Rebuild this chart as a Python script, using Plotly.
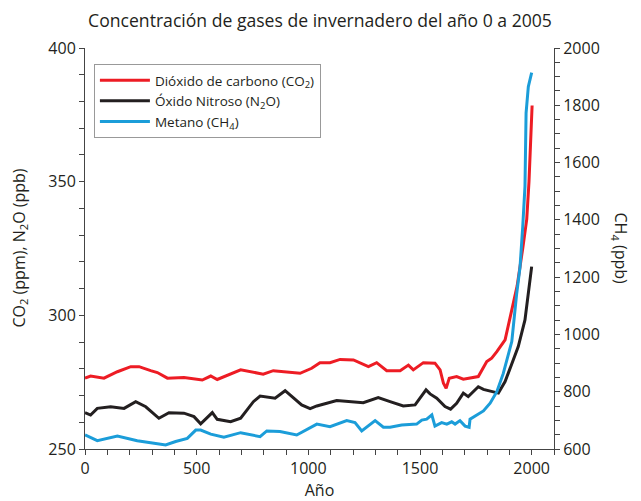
import plotly.graph_objects as go

# ---- data ----
co2_years = [0, 25, 85, 145, 205, 242, 294, 324, 369, 443, 525, 563, 592, 652, 697,
             798, 843, 963, 1015, 1052, 1097, 1142, 1202, 1269, 1306, 1351, 1411,
             1448, 1470, 1515, 1567, 1590, 1605, 1617, 1631, 1664, 1694, 1761, 1799,
             1821, 1844, 1881, 1910, 1935, 1960, 1978, 1988, 1994, 1998, 2002]
co2_ppm = [276.5, 277.3, 276.5, 278.9, 280.8, 280.8, 279.3, 278.6, 276.5, 276.7,
           275.8, 277.3, 276.0, 278.0, 279.6, 278.0, 279.3, 278.3, 280.2, 282.3,
           282.3, 283.5, 283.3, 280.8, 282.3, 279.3, 279.3, 281.4, 279.6, 282.3,
           282.1, 279.6, 274.6, 272.7, 276.5, 277.1, 276.1, 277.1, 282.7, 284.0,
           286.4, 290.8, 302.0, 311.0, 325.0, 336.0, 350.0, 362.0, 371.0, 378.5]

n2o_years = [0, 25, 55, 115, 175, 227, 272, 331, 376, 443, 488, 518, 570, 592, 652,
             697, 754, 784, 851, 896, 970, 1008, 1038, 1127, 1246, 1313, 1366, 1425,
             1478, 1508, 1527, 1545, 1575, 1612, 1637, 1664, 1694, 1716, 1761, 1784,
             1851, 1881, 1911, 1940, 1970, 1985, 2000]
n2o_ppb = [263.6, 262.7, 265.2, 265.8, 265.2, 267.7, 265.8, 261.5, 263.6, 263.4,
           262.1, 259.4, 263.6, 261.1, 260.2, 261.5, 267.7, 269.8, 269.0, 271.8,
           266.5, 265.1, 266.1, 268.1, 267.3, 269.2, 267.7, 266.1, 266.5, 269.8,
           272.1, 270.6, 269.0, 265.9, 264.9, 267.1, 270.9, 269.6, 273.3, 272.3,
           270.9, 275.2, 282.0, 288.3, 298.3, 308.2, 318.2]

ch4_years = [0, 55, 145, 234, 294, 361, 406, 458, 496, 518, 563, 622, 697, 784, 814,
             873, 948, 1038, 1097, 1172, 1209, 1239, 1299, 1336, 1366, 1418, 1485,
             1508, 1530, 1553, 1567, 1597, 1620, 1642, 1657, 1679, 1702, 1720, 1724,
             1754, 1784, 1814, 1844, 1873, 1896, 1911, 1933, 1948, 1960, 1970, 1975,
             1985, 2000]
ch4_ppb = [649, 629, 645, 629, 622, 614, 626, 637, 666, 666, 652, 641, 657, 643, 663,
           661, 649, 687, 678, 699, 692, 663, 699, 676, 676, 684, 687, 701, 704, 719,
           680, 692, 687, 695, 687, 699, 680, 676, 704, 719, 733, 760, 800, 864, 934,
           975, 1143, 1236, 1376, 1516, 1773, 1865, 1914]

x_ticks = [0, 500, 1000, 1500, 2000]

RED = "#ED1C24"
BLACK = "#231F20"
BLUE = "#1B9DD9"
AXIS = "#444444"

fig = go.Figure()
fig.add_trace(go.Scatter(x=co2_years, y=co2_ppm, mode="lines",
                         name="Dióxido de carbono (CO<sub>2</sub>)",
                         line=dict(color=RED, width=3), yaxis="y"))
fig.add_trace(go.Scatter(x=n2o_years, y=n2o_ppb, mode="lines",
                         name="Óxido Nitroso (N<sub>2</sub>O)",
                         line=dict(color=BLACK, width=3), yaxis="y"))
fig.add_trace(go.Scatter(x=ch4_years, y=ch4_ppb, mode="lines",
                         name="Metano (CH<sub>4</sub>)",
                         line=dict(color=BLUE, width=3), yaxis="y2"))

axis_common = dict(showgrid=False, zeroline=False, showline=True, linecolor=AXIS,
                   linewidth=1, ticks="outside", ticklen=5, tickcolor=AXIS,
                   automargin=False,
                   tickfont=dict(size=16, color="#231F20"))

# page body has an 8px margin, so the figure is 8px smaller each way
W, H = 633, 493
fig.update_layout(
    width=W, height=H,
    margin=dict(l=77, r=87, t=40, b=52),
    paper_bgcolor="white", plot_bgcolor="white",
    font=dict(family="Open Sans", size=16, color="#231F20"),
    title=dict(text="Concentración de gases de invernadero del año 0 a 2005",
               x=(320 - 8) / W, xanchor="center", y=1 - 13 / H, yanchor="middle",
               font=dict(size=17.6)),
    xaxis=dict(range=[0, 2100], tickvals=x_ticks,
               minor=dict(dtick=100, ticks="outside", ticklen=5, tickcolor=AXIS),
               title=dict(text="Año", standoff=6, font=dict(size=16)),
               **axis_common),
    yaxis=dict(range=[250, 400], dtick=50,
               minor=dict(dtick=10, ticks="outside", ticklen=5, tickcolor=AXIS),
               **axis_common),
    yaxis2=dict(range=[600, 2000], dtick=200, overlaying="y", side="right",
                minor=dict(dtick=50, ticks="outside", ticklen=5, tickcolor=AXIS),
                **axis_common),
    legend=dict(x=0.019, y=0.96, xanchor="left", yanchor="top",
                bordercolor="#999999", borderwidth=1, bgcolor="white",
                font=dict(size=13.5), tracegroupgap=0, itemwidth=50),
    annotations=[
        dict(text="CO<sub>2</sub> (ppm), N<sub>2</sub>O (ppb)", xref="paper",
             yref="paper", x=0, xshift=-66, y=0.5, xanchor="center",
             yanchor="middle", textangle=-90, showarrow=False,
             font=dict(size=16)),
        dict(text="CH<sub>4</sub> (ppb)", xref="paper", yref="paper",
             x=1, xshift=66, y=0.5, xanchor="center", yanchor="middle",
             textangle=90, showarrow=False, font=dict(size=16)),
    ],
)

fig.write_html("out.html")
